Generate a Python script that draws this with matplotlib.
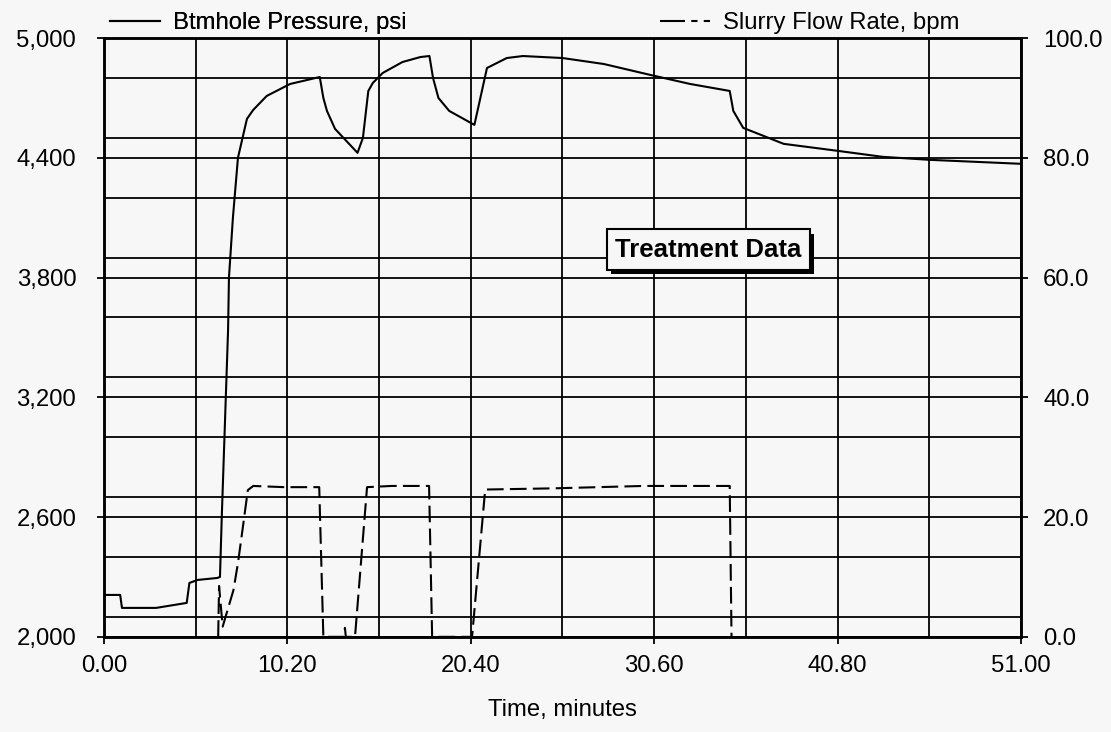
import numpy as np
import matplotlib.pyplot as plt
import matplotlib.patheffects as pe
from matplotlib.lines import Line2D
from matplotlib.ticker import MultipleLocator, FuncFormatter

plt.rcParams['font.family'] = ['Liberation Sans', 'DejaVu Sans']

# Забойное давление, psi
t_press = [0, 0.9, 1.0, 2.9, 4.6, 4.75, 5.2, 6.3, 6.45, 6.55, 6.9, 6.95, 7.17, 7.45,
           7.95, 8.3, 9.05, 10.35, 11.3, 12.0, 12.2, 12.4, 12.85, 14.1, 14.4, 14.7,
           14.95, 15.5, 16.6, 17.6, 18.1, 18.3, 18.6, 19.2, 20.6, 21.3, 22.4, 23.3,
           25.5, 27.8, 30.4, 32.6, 34.8, 35.0, 35.55, 37.8, 40.8, 43.3, 45.9, 51.0]
pressure = [2210, 2210, 2145, 2145, 2170, 2270, 2285, 2295, 2300, 2600, 3535, 3800,
            4100, 4400, 4595, 4640, 4710, 4770, 4790, 4805, 4700, 4635, 4545, 4425,
            4500, 4735, 4775, 4825, 4880, 4905, 4910, 4800, 4700, 4635, 4565, 4850,
            4900, 4910, 4900, 4870, 4815, 4770, 4735, 4635, 4550, 4470, 4435, 4405,
            4390, 4370]

# Расход пульпы, bpm
t_rate = [6.35, 6.4, 6.6, 7.2, 7.45, 7.7, 8.0, 8.3, 10.0, 11.97, 12.2, 13.35, 13.4,
          13.45, 13.96, 14.63, 16.0, 18.08, 18.25, 20.47, 21.2, 25.0, 30.0, 34.8, 34.9]
rate = [0, 8.5, 1.7, 7.8, 12.3, 17.8, 24.5, 25.2, 25.0, 25.0, 0, 0, 1.5,
        0, 0, 25.0, 25.2, 25.2, 0, 0, 24.6, 24.8, 25.2, 25.2, 0]

x_ticks = [0, 10.2, 20.4, 30.6, 40.8, 51.0]
p_ticks = [2000, 2600, 3200, 3800, 4400, 5000]
q_ticks = [0, 20, 40, 60, 80, 100]

fs = 17.2
bg = '#f7f7f7'
fig = plt.figure(figsize=(11.11, 7.32), dpi=100, facecolor=bg)
ax = fig.add_axes([0.0936, 0.130, 0.8254, 0.818], facecolor=bg)
ax2 = ax.twinx()

ax.plot(t_press, pressure, color='black', lw=1.5)
ax2.plot(t_rate, rate, color='black', lw=1.5, linestyle=(0, (8, 3)))

ax.set_xlim(0, 51)
ax.set_ylim(2000, 5000)
ax2.set_ylim(0, 100)

ax.set_xticks(x_ticks)
ax.set_xticklabels(['%.2f' % v for v in x_ticks])
ax.xaxis.set_minor_locator(MultipleLocator(5.1))
ax.set_yticks(p_ticks)
ax.yaxis.set_major_formatter(FuncFormatter(lambda v, _: '{:,.0f}'.format(v)))
ax.yaxis.set_minor_locator(MultipleLocator(300))
ax2.set_yticks(q_ticks)
ax2.yaxis.set_major_formatter(FuncFormatter(lambda v, _: '%.1f' % v))

ax.grid(True, which='both', color='black', lw=1.3)
ax.set_axisbelow(True)
ax.tick_params(which='major', direction='out', length=5, width=1.3, labelsize=fs,
               colors='black')
ax.tick_params(axis='y', pad=15)
ax.tick_params(axis='x', pad=8)
ax.tick_params(which='minor', length=0)
ax2.tick_params(direction='out', length=5, width=1.3, labelsize=fs, pad=11)

for a in (ax, ax2):
    for s in a.spines.values():
        s.set_linewidth(1.8)

ax.set_xlabel('Time, minutes', fontsize=fs, labelpad=16)

h1 = Line2D([], [], color='black', lw=1.5)
h2 = Line2D([], [], color='black', lw=1.5, linestyle=(0, (12, 3, 3, 3)))
leg1 = ax.legend([h1], ['Btmhole Pressure, psi'], loc='lower left',
                 bbox_to_anchor=(0.0065, 1.007), frameon=False, borderpad=0,
                 borderaxespad=0, handlelength=2.1, handletextpad=0.55, fontsize=fs)
ax.add_artist(leg1)
ax2.legend([h2], ['Slurry Flow Rate, bpm'], loc='lower left',
           bbox_to_anchor=(0.606, 1.007), frameon=False, borderpad=0,
           borderaxespad=0, handlelength=2.1, handletextpad=0.55, fontsize=fs)

txt = ax.text(33.6, 3940, 'Treatment Data', fontsize=18.5, fontweight='bold',
              ha='center', va='center', zorder=5,
              bbox=dict(boxstyle='square,pad=0.32', fc=bg, ec='black', lw=1.5))
txt.get_bbox_patch().set_path_effects([
    pe.SimplePatchShadow(offset=(3, -3), shadow_rgbFace='black', alpha=1),
    pe.Normal()])

fig.savefig('out.png', dpi=100, facecolor=bg)
